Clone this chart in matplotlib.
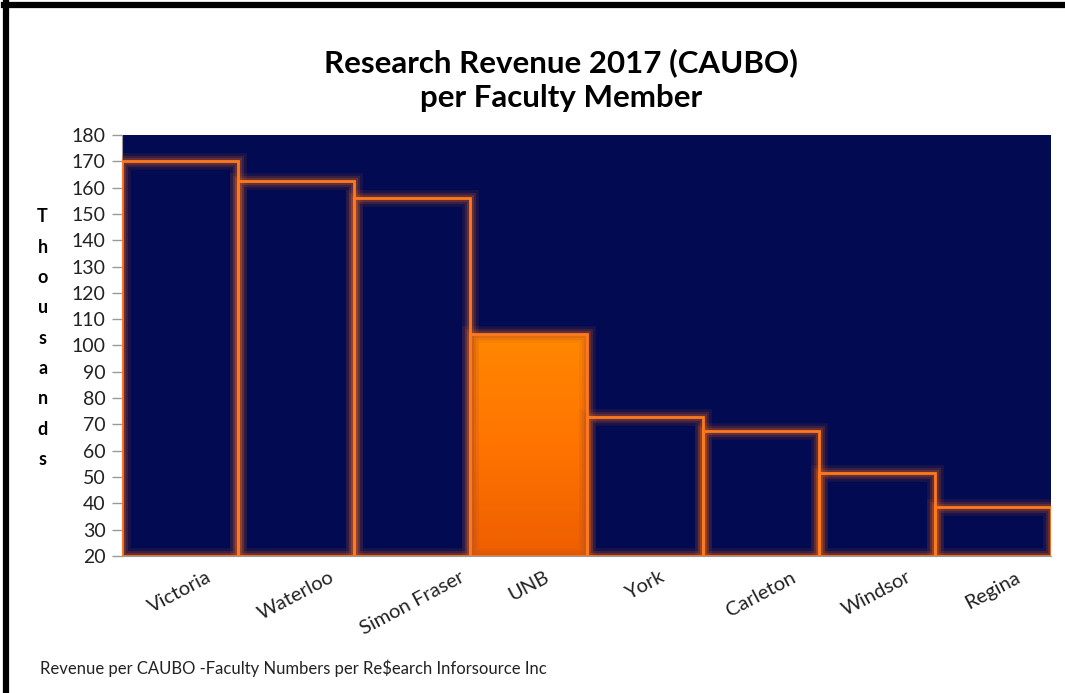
import numpy as np
import matplotlib
matplotlib.use('Agg')
import matplotlib.pyplot as plt
from matplotlib.lines import Line2D

plt.rcParams['font.family'] = ['Lato', 'DejaVu Sans']

universities = ['Victoria', 'Waterloo', 'Simon Fraser', 'UNB', 'York', 'Carleton', 'Windsor', 'Regina']
revenue = [170, 162.5, 156, 104.5, 73, 67.5, 51.5, 38.5]
highlight = 'UNB'
y_min, y_max = 20, 180

navy = '#020a52'
edge = '#ff7a1e'
glow = '#c4561f'

fig = plt.figure(figsize=(10.65, 6.93), dpi=100)
ax = fig.add_axes([0.1146, 0.1977, 0.8723, 0.6075])
ax.set_facecolor(navy)

x = np.arange(len(universities))
heights = [v - y_min for v in revenue]

# base fill
bars = ax.bar(x, heights, bottom=y_min, width=1.0, color=navy, edgecolor='none', zorder=2)

# orange gradient on the highlighted bar
i = universities.index(highlight)
grad = np.linspace(0, 1, 256).reshape(-1, 1)
cmap = matplotlib.colors.LinearSegmentedColormap.from_list('o', ['#ee5e00', '#ff7400', '#ff8800'])
im = ax.imshow(grad, cmap=cmap, origin='lower', aspect='auto',
               extent=(x[i] - 0.5, x[i] + 0.5, y_min, revenue[i]), zorder=3)
im.set_clip_path(bars[i])

# glow + thin bright edge
for lw, a in [(12, 0.12), (8, 0.2), (5, 0.3)]:
    ax.bar(x, heights, bottom=y_min, width=1.0, fill=False, edgecolor=glow,
           linewidth=lw, alpha=a, zorder=4)
ax.bar(x, heights, bottom=y_min, width=1.0, fill=False, edgecolor=edge, linewidth=2, zorder=5)

ax.set_xlim(-0.5, len(universities) - 0.5)
ax.set_ylim(y_min, y_max)
ax.set_yticks(np.arange(y_min, y_max + 1, 10))
ax.tick_params(axis='y', labelsize=14, colors='#222222', length=7, width=1, color='#999999', pad=5)
ax.set_xticks(x)
ax.set_xticklabels(universities, rotation=28, ha='center', va='top', fontsize=14.5, color='#222222')
ax.tick_params(axis='x', length=0, pad=9)
for s in ['top', 'right']:
    ax.spines[s].set_visible(False)
ax.spines['left'].set_color('#999999')
ax.spines['bottom'].set_color('#999999')

fig.text(0.527, 0.885, 'Research Revenue 2017 (CAUBO)\nper Faculty Member', ha='center', va='center',
         fontsize=22.5, fontweight='bold', linespacing=1.3)

fig.text(0.040, 0.512, '\n'.join('Thousands'), ha='center', va='center', fontsize=13,
         fontweight='bold', linespacing=1.95)

fig.text(0.038, 0.036, 'Revenue per CAUBO -Faculty Numbers per Re$earch Inforsource Inc',
         ha='left', va='center', fontsize=12, color='#222222')

# black frame on left and top
fig.add_artist(Line2D([0.0056, 0.0056], [0, 0.995], transform=fig.transFigure, color='black', linewidth=4.5))
fig.add_artist(Line2D([0.0035, 1.0], [0.9935, 0.9935], transform=fig.transFigure, color='black', linewidth=4.5))

fig.savefig('out.png', dpi=100)
